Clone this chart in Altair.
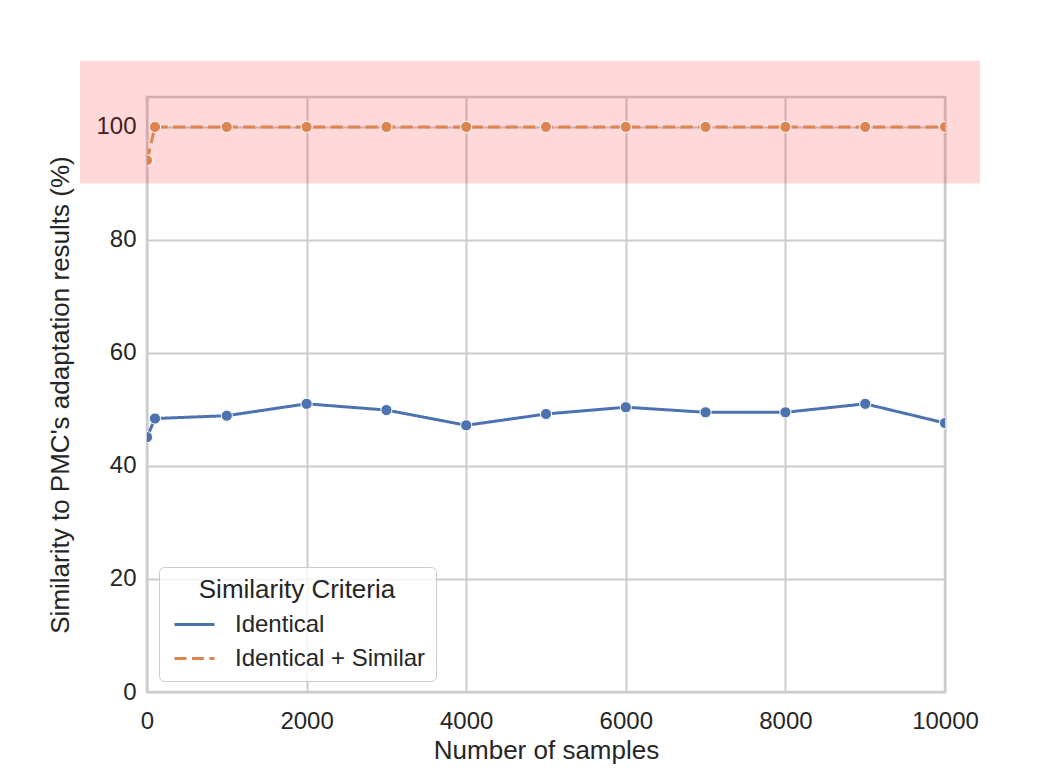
import altair as alt
import pandas as pd

samples = [0, 100, 1000, 2000, 3000, 4000, 5000, 6000, 7000, 8000, 9000, 10000]
identical = [45.1, 48.4, 48.9, 51.0, 49.9, 47.2, 49.2, 50.4, 49.5, 49.5, 51.0, 47.6]
identical_similar = [94.1, 100, 100, 100, 100, 100, 100, 100, 100, 100, 100, 100]
series_names = ["Identical", "Identical + Similar"]
series_colors = ["#4C72B0", "#DD8452"]
x_ticks = [0, 2000, 4000, 6000, 8000, 10000]
y_ticks = [0, 20, 40, 60, 80, 100]
band_y = [90, 111.7]
band_x = [-840, 10440]

rows = []
for s, a, b in zip(samples, identical, identical_similar):
    rows.append({"samples": s, "value": a, "criteria": series_names[0]})
    rows.append({"samples": s, "value": b, "criteria": series_names[1]})
df = pd.DataFrame(rows)
band = pd.DataFrame({"x": [band_x[0]], "x2": [band_x[1]], "y": [band_y[0]], "y2": [band_y[1]]})

XT = "Number of samples"
YT = "Similarity to PMC's adaptation results (%)"
xs = alt.Scale(domain=[0, 10000], nice=False, zero=False)
ys = alt.Scale(domain=[0, 105.3], nice=False)
xaxis = alt.Axis(values=x_ticks, format="d", title=XT, labelFlush=False)
yaxis = alt.Axis(values=y_ticks, format="d", title=YT, labelFlush=False)

leg = alt.Legend(
    title="Similarity Criteria",
    orient="none",
    legendX=12,
    legendY=470,
    symbolType="stroke",
)
color = alt.Color("criteria:N", scale=alt.Scale(domain=series_names, range=series_colors), legend=leg)
dash = alt.StrokeDash("criteria:N", scale=alt.Scale(domain=series_names, range=[[1, 0], [12, 5.5]]), legend=leg)

rect = alt.Chart(band).mark_rect(color="#ff0000", opacity=0.15, clip=False).encode(
    x=alt.X("x:Q", scale=xs, axis=xaxis, title=XT),
    x2="x2",
    y=alt.Y("y:Q", scale=ys, axis=yaxis, title=YT),
    y2="y2",
)

line = alt.Chart(df).mark_line(strokeWidth=3, clip=True).encode(
    x=alt.X("samples:Q", scale=xs, axis=xaxis, title=XT),
    y=alt.Y("value:Q", scale=ys, axis=yaxis, title=YT),
    color=color,
    strokeDash=dash,
)

points = alt.Chart(df).mark_point(filled=True, size=125, stroke="white", strokeWidth=1, opacity=1, clip=True).encode(
    x=alt.X("samples:Q", scale=xs, axis=xaxis, title=XT),
    y=alt.Y("value:Q", scale=ys, axis=yaxis, title=YT),
    fill=alt.Fill("criteria:N", scale=alt.Scale(domain=series_names, range=series_colors), legend=None),
)

chart = alt.layer(rect, line, points).properties(
    width=798,
    height=595,
    autosize=alt.AutoSizeParams(type="none"),
    padding={"left": 139, "top": 89, "right": 95, "bottom": 75},
).configure(
    font="Liberation Sans",
).configure_view(
    stroke="#cccccc", strokeWidth=2.5
).configure_axis(
    labelFont="Liberation Sans",
    labelFontSize=24,
    labelColor="#262626",
    titleFont="Liberation Sans",
    titleFontSize=26,
    titleFontWeight="normal",
    titleColor="#262626",
    gridColor="#cccccc",
    gridWidth=2,
    gridOpacity=1,
    domain=False,
    ticks=False,
    zindex=0,
).configure_axisX(
    labelPadding=17, titlePadding=4
).configure_axisY(
    labelPadding=11, titlePadding=22
).configure_legend(
    padding=10,
    titleFont="Liberation Sans",
    titleFontSize=26,
    titleFontWeight="normal",
    titleColor="#262626",
    titleAnchor="middle",
    titlePadding=0,
    titleLimit=500,
    labelFont="Liberation Sans",
    labelFontSize=24,
    labelColor="#262626",
    labelOffset=19,
    labelLimit=500,
    symbolSize=1600,
    symbolOffset=4,
    symbolStrokeWidth=3,
    rowPadding=-2,
    strokeColor="#cccccc",
    fillColor="rgba(255,255,255,0.8)",
    cornerRadius=5,
)

chart.save("out.html", embed_options={"renderer": "svg", "actions": False})
